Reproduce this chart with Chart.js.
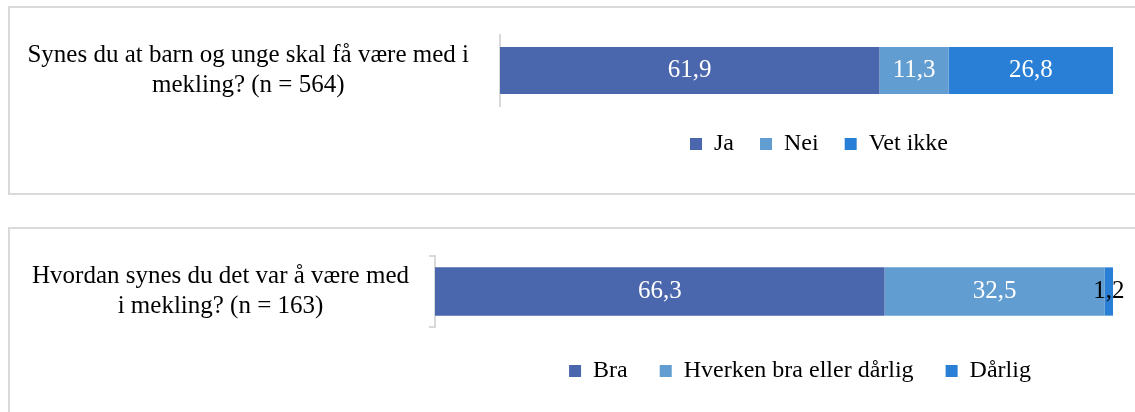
<!DOCTYPE html>
<html>
<head>
<meta charset="utf-8">
<script src="https://cdn.jsdelivr.net/npm/chart.js@4.4.1/dist/chart.umd.min.js"></script>
<style>
  body { margin: 0; background: #fff; width: 1135px; height: 412px; overflow: hidden; position: relative; }
  .boks { position: absolute; left: 8px; width: 1200px; border: 2px solid #d9d9d9; }
  #boks1 { top: 6px; height: 185px; }
  #boks2 { top: 227px; height: 250px; }
  canvas { position: absolute; left: 0; top: 0; }
</style>
</head>
<body>
<div class="boks" id="boks1"><canvas id="diagram1" width="1125" height="185"></canvas></div>
<div class="boks" id="boks2"><canvas id="diagram2" width="1125" height="183"></canvas></div>
<script>
// Spørsmål 1
const sporsmal1 = [['Synes du at barn og unge skal få være med i', 'mekling? (n = 564)']];
const svar1 = ['Ja', 'Nei', 'Vet ikke'];
const prosent1 = [61.9, 11.3, 26.8];

// Spørsmål 2
const sporsmal2 = [['Hvordan synes du det var å være med', 'i mekling? (n = 163)']];
const svar2 = ['Bra', 'Hverken bra eller dårlig', 'Dårlig'];
const prosent2 = [66.3, 32.5, 1.2];

const farger = ['#4a66ac', '#629dd1', '#297fd5'];
const skrift = 'Liberation Serif';

// Tallene inne i stolpene (hvit, svart hvis teksten ikke får plass)
const verdiEtiketter = {
  id: 'verdiEtiketter',
  afterDatasetsDraw(chart) {
    const ctx = chart.ctx;
    ctx.save();
    ctx.font = '25px "' + skrift + '"';
    ctx.textAlign = 'center';
    ctx.textBaseline = 'middle';
    chart.data.datasets.forEach((ds, i) => {
      chart.getDatasetMeta(i).data.forEach((bar, j) => {
        const tekst = ds.data[j].toFixed(1).replace('.', ',');
        const bredde = Math.abs(bar.x - bar.base);
        ctx.fillStyle = ctx.measureText(tekst).width + 4 > bredde ? '#000' : '#fff';
        ctx.fillText(tekst, (bar.x + bar.base) / 2, bar.y);
      });
    });
    ctx.restore();
  }
};

// Flytter legenden slik at den står midt under stolpen
const flyttLegend = {
  id: 'flyttLegend',
  afterLayout(chart, args, opts) {
    const lg = chart.legend;
    const halv = lg.width / 2;
    lg.left = opts.midt - halv;
    lg.right = opts.midt + halv;
  }
};

function lagDiagram(id, sporsmal, svar, prosent, o) {
  new Chart(document.getElementById(id), {
    type: 'bar',
    data: {
      labels: sporsmal,
      datasets: svar.map((s, i) => ({
        label: s,
        data: [prosent[i]],
        backgroundColor: farger[i],
        barPercentage: o.tykkelse,
        categoryPercentage: 1
      }))
    },
    options: {
      indexAxis: 'y',
      responsive: false,
      animation: false,
      layout: { padding: { top: 27, right: 22, bottom: o.bunn, left: 0 } },
      scales: {
        x: { stacked: true, min: 0, max: 100, display: false },
        y: {
          stacked: true,
          afterFit: (s) => {
            s.width = o.aksebredde;
            s.paddingTop = 0;
            s.paddingBottom = 0;
          },
          border: { display: true, color: '#d9d9d9', width: 2 },
          grid: { display: o.merker, drawOnChartArea: false, tickLength: 6, color: '#d9d9d9', lineWidth: 2 },
          ticks: {
            color: '#000',
            padding: o.tekstavstand,
            crossAlign: 'center',
            font: { family: skrift, size: 25, lineHeight: 1.2 }
          }
        }
      },
      plugins: {
        legend: {
          position: 'bottom',
          labels: {
            color: '#000',
            boxWidth: 12,
            boxHeight: 12,
            padding: o.legendavstand,
            font: { family: skrift, size: 24 }
          }
        },
        tooltip: { enabled: false },
        flyttLegend: { midt: o.legendmidt }
      }
    },
    plugins: [verdiEtiketter, flyttLegend]
  });
}

lagDiagram('diagram1', sporsmal1, svar1, prosent1, {
  tykkelse: 0.66, aksebredde: 490, merker: false, tekstavstand: 25,
  legendavstand: 26, legendmidt: 809, bunn: 27
});
lagDiagram('diagram2', sporsmal2, svar2, prosent2, {
  tykkelse: 0.68, aksebredde: 425, merker: true, tekstavstand: 20,
  legendavstand: 32, legendmidt: 790, bunn: 19
});
</script>
</body>
</html>
